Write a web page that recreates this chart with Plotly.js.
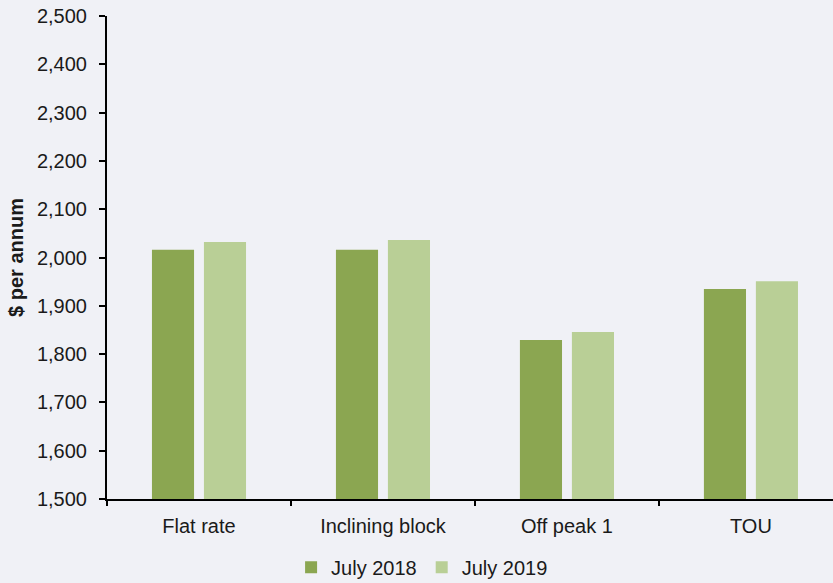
<!DOCTYPE html>
<html><head><meta charset="utf-8">
<script src="https://cdn.plot.ly/plotly-3.0.1.min.js"></script>
<style>html,body{margin:0;padding:0;background:#f0f1f6;}#chart{width:833px;height:583px;}</style>
</head><body><div id="chart"></div>
<script>
const categories = ["Flat rate", "Inclining block", "Off peak 1", "TOU"];
const july2018 = [2016, 2016, 1829, 1935];
const july2019 = [2032, 2036, 1846, 1951];
const seriesNames = ["July 2018", "July 2019"];
const yTicks = [1500, 1600, 1700, 1800, 1900, 2000, 2100, 2200, 2300, 2400, 2500];

const font = {family: "Liberation Sans, Arial, sans-serif", color: "#1a1a1a"};
const f = (s) => Object.assign({size: s}, font);
const traces = [
  {type: "bar", name: seriesNames[0], x: categories, y: july2018, marker: {color: "#8ba651"}},
  {type: "bar", name: seriesNames[1], x: categories, y: july2019, marker: {color: "#b9cf96"}}
];
const layout = {
  width: 833, height: 583,
  paper_bgcolor: "#f0f1f6", plot_bgcolor: "#f0f1f6",
  margin: {l: 107, r: 0, t: 16, b: 84},
  barmode: "group", bargap: 0.435, bargroupgap: 0.19,
  font: f(20),
  xaxis: {
    type: "category", range: [-0.5, 3.446], automargin: false,
    showline: true, linecolor: "#000", linewidth: 2,
    ticks: "outside", tickson: "boundaries", ticklen: 5, tickwidth: 2, tickcolor: "#000",
    showgrid: false, zeroline: false,
    tickfont: f(20), ticklabelstandoff: 8
  },
  yaxis: {
    range: [1500, 2500], tickvals: yTicks, tickformat: ",d", automargin: false,
    showline: true, linecolor: "#000", linewidth: 2,
    ticks: "outside", ticklen: 6, tickwidth: 2, tickcolor: "#000",
    showgrid: false, zeroline: false,
    tickfont: f(20), ticklabelstandoff: 8,
    title: {text: "<b>$ per annum</b>", font: f(20), standoff: 8}
  },
  showlegend: true,
  legend: {orientation: "h", x: 0.434, xanchor: "center", yref: "container", y: 0.027, yanchor: "middle",
    font: f(20), bgcolor: "rgba(0,0,0,0)", itemwidth: 30}
};
Plotly.newPlot("chart", traces, layout, {displayModeBar: false, staticPlot: true});
</script></body></html>
